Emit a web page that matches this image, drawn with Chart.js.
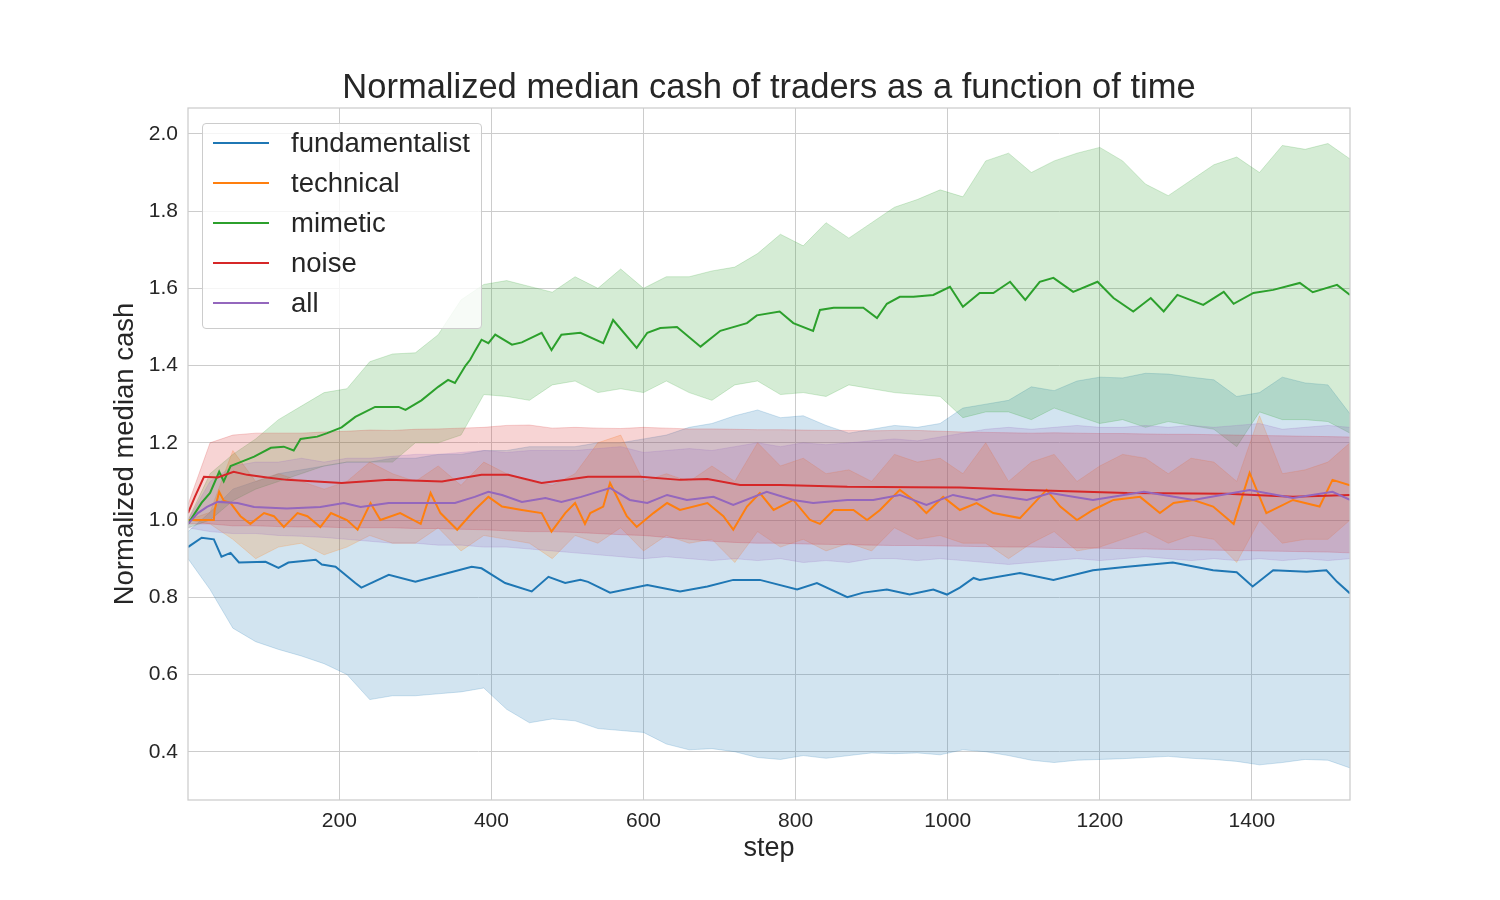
<!DOCTYPE html>
<html>
<head>
<meta charset="utf-8">
<title>Normalized median cash of traders</title>
<script src="https://cdn.jsdelivr.net/npm/chart.js@4.4.0/dist/chart.umd.min.js"></script>
<style>
  html, body { margin: 0; padding: 0; background: #ffffff; }
  #wrap {
    position: relative; width: 1500px; height: 900px;
    font-family: 'Liberation Sans', Arial, sans-serif; color: #262626;
  }
  #title {
    position: absolute; left: 188px; width: 1162px; top: 69px;
    text-align: center; font-size: 34.5px; line-height: 34.5px; white-space: nowrap;
  }
  #legend {
    position: absolute; left: 202px; top: 123px; width: 278px; height: 204px;
    background: rgba(255, 255, 255, 0.8); border: 1px solid #cccccc; border-radius: 4px;
  }
  .swatch { position: absolute; left: 10px; width: 56px; height: 2px; }
  .lbl { position: absolute; left: 88px; font-size: 27.5px; line-height: 27.5px; white-space: nowrap; }
</style>
</head>
<body>
<div id="wrap">
  <canvas id="chart" width="1500" height="900"></canvas>
  <div id="title">Normalized median cash of traders as a function of time</div>
  <div id="legend"></div>
</div>
<script>
/* ===============================================
   DATA
   =============================================== */

const seriesNames = ['fundamentalist', 'technical', 'mimetic', 'noise', 'all'];

// ---- median lines (each read at its own steps) ----
const fundSteps = [1, 19, 35, 45, 57, 68, 103, 120, 133, 169,
    177, 195, 221, 229, 265, 300, 343, 374, 387, 418,
    453, 475, 497, 517, 527, 556, 605, 648, 684, 718,
    753, 802, 828, 868, 889, 920, 950, 981, 999, 1016,
    1034, 1042, 1095, 1139, 1191, 1236, 1296, 1349, 1380, 1401,
    1428, 1472, 1498, 1512, 1529];
const fundMed = [0.93, 0.954, 0.95, 0.905, 0.915, 0.89, 0.892, 0.876, 0.89, 0.897,
    0.885, 0.879, 0.837, 0.825, 0.858, 0.84, 0.863, 0.879, 0.875, 0.837,
    0.815, 0.853, 0.837, 0.845, 0.84, 0.812, 0.832, 0.815, 0.828, 0.845,
    0.845, 0.82, 0.837, 0.80, 0.812, 0.82, 0.807, 0.82, 0.807, 0.825,
    0.85, 0.845, 0.863, 0.845, 0.87, 0.879, 0.89, 0.87, 0.865, 0.828,
    0.87, 0.866, 0.87, 0.84, 0.81];

const techSteps = [1, 35, 36, 42, 48, 57, 70, 83, 101, 114,
    127, 145, 158, 175, 189, 210, 224, 241, 254, 280,
    307, 320, 333, 355, 378, 396, 414, 440, 466, 479,
    497, 510, 523, 530, 547, 556, 578, 591, 613, 631,
    648, 684, 705, 718, 736, 753, 771, 797, 819, 832,
    850, 876, 894, 911, 937, 955, 972, 994, 1016, 1038,
    1060, 1095, 1130, 1148, 1170, 1191, 1218, 1253, 1279, 1297,
    1323, 1349, 1376, 1397, 1419, 1454, 1489, 1506, 1529];
const techMed = [1.0, 1.0, 1.026, 1.073, 1.05, 1.044, 1.01, 0.99, 1.018, 1.01,
    0.982, 1.018, 1.01, 0.982, 1.018, 1.0, 0.975, 1.044, 1.0, 1.018,
    0.99, 1.07, 1.018, 0.975, 1.026, 1.06, 1.035, 1.026, 1.018, 0.97,
    1.018, 1.044, 0.99, 1.018, 1.035, 1.096, 1.01, 0.982, 1.018, 1.044,
    1.026, 1.044, 1.01, 0.975, 1.035, 1.07, 1.026, 1.052, 1.0, 0.99,
    1.026, 1.026, 1.0, 1.026, 1.078, 1.052, 1.018, 1.06, 1.026, 1.044,
    1.018, 1.005, 1.078, 1.035, 1.0, 1.026, 1.052, 1.06, 1.018, 1.044,
    1.052, 1.035, 0.99, 1.122, 1.018, 1.052, 1.035, 1.104, 1.09];

const mimSteps = [1, 19, 30, 42, 48, 57, 70, 88, 110, 127,
    140, 149, 171, 184, 203, 221, 247, 278, 287, 308,
    330, 343, 352, 366, 372, 379, 387, 396, 405, 427,
    440, 466, 479, 492, 517, 547, 560, 591, 605, 622,
    644, 675, 701, 736, 749, 779, 797, 823, 832, 850,
    889, 907, 920, 937, 955, 981, 1003, 1020, 1042, 1060,
    1082, 1102, 1121, 1139, 1165, 1197, 1218, 1244, 1267, 1284,
    1302, 1336, 1363, 1376, 1402, 1428, 1463, 1480, 1512, 1529];
const mimMed = [0.99, 1.045, 1.07, 1.125, 1.10, 1.14, 1.15, 1.164, 1.187, 1.19,
    1.18, 1.21, 1.216, 1.225, 1.24, 1.267, 1.293, 1.293, 1.285, 1.31,
    1.345, 1.363, 1.355, 1.40, 1.415, 1.44, 1.467, 1.458, 1.48, 1.454,
    1.46, 1.485, 1.44, 1.48, 1.485, 1.458, 1.518, 1.446, 1.485, 1.497,
    1.50, 1.449, 1.49, 1.51, 1.53, 1.54, 1.51, 1.49, 1.544, 1.55,
    1.55, 1.523, 1.56, 1.578, 1.578, 1.583, 1.604, 1.552, 1.588, 1.588,
    1.617, 1.57, 1.617, 1.627, 1.591, 1.617, 1.575, 1.54, 1.575, 1.54,
    1.583, 1.557, 1.591, 1.56, 1.588, 1.596, 1.614, 1.59, 1.609, 1.583];

const noiseSteps = [1, 10, 22, 40, 61, 79, 105, 131, 203, 265,
    335, 387, 422, 466, 501, 527, 596, 648, 684, 727,
    780, 868, 955, 1016, 1104, 1236, 1367, 1454, 1529];
const noiseMed = [1.018, 1.06, 1.112, 1.11, 1.125, 1.117, 1.11, 1.104, 1.096, 1.104,
    1.10, 1.117, 1.117, 1.096, 1.105, 1.112, 1.112, 1.104, 1.106, 1.091,
    1.091, 1.086, 1.085, 1.084, 1.078, 1.07, 1.068, 1.06, 1.065];

const allSteps = [1, 14, 26, 40, 66, 88, 131, 175, 206, 228,
    265, 308, 352, 378, 396, 414, 440, 471, 492, 518,
    556, 582, 605, 631, 657, 692, 718, 762, 797, 823,
    868, 902, 937, 972, 1007, 1038, 1060, 1104, 1135, 1191,
    1258, 1323, 1397, 1454, 1506, 1529];
const allMed = [0.99, 1.018, 1.034, 1.047, 1.044, 1.034, 1.03, 1.034, 1.044, 1.034,
    1.044, 1.044, 1.044, 1.06, 1.073, 1.065, 1.047, 1.057, 1.047, 1.06,
    1.083, 1.052, 1.044, 1.065, 1.052, 1.06, 1.039, 1.073, 1.052, 1.044,
    1.052, 1.052, 1.065, 1.039, 1.065, 1.052, 1.065, 1.052, 1.07, 1.052,
    1.073, 1.052, 1.078, 1.057, 1.073, 1.052];

// ---- confidence bands (all read at the same steps) ----
const bandSteps = [1, 30, 60, 90, 120, 150, 180, 210, 240, 270, 300, 330, 360,
    390, 420, 450, 480, 510, 540, 570, 600, 630, 660, 690, 720, 750,
    780, 810, 840, 870, 900, 930, 960, 990, 1020, 1050, 1080, 1110, 1140,
    1170, 1200, 1230, 1260, 1290, 1320, 1350, 1380, 1410, 1440, 1470, 1500, 1529];

const fundLo = [0.90, 0.82, 0.72, 0.685, 0.665, 0.648, 0.628, 0.60, 0.535, 0.545, 0.545, 0.55, 0.555,
    0.565, 0.51, 0.475, 0.485, 0.48, 0.46, 0.455, 0.45, 0.42, 0.405, 0.408, 0.40, 0.385,
    0.38, 0.39, 0.383, 0.39, 0.397, 0.395, 0.397, 0.392, 0.405, 0.40, 0.39, 0.378, 0.372,
    0.378, 0.38, 0.382, 0.385, 0.388, 0.383, 0.38, 0.375, 0.366, 0.372, 0.38, 0.378, 0.358];
const fundHi = [0.97, 1.02, 1.08, 1.10, 1.12, 1.13, 1.14, 1.15, 1.15, 1.16, 1.16, 1.17, 1.17,
    1.18, 1.18, 1.19, 1.19, 1.19, 1.20, 1.20, 1.21, 1.22, 1.24, 1.25, 1.27, 1.285,
    1.265, 1.27, 1.245, 1.225, 1.235, 1.245, 1.24, 1.25, 1.29, 1.30, 1.31, 1.345, 1.335,
    1.36, 1.37, 1.368, 1.38, 1.378, 1.37, 1.363, 1.32, 1.33, 1.37, 1.355, 1.35, 1.275];

const techLo = [1.0, 0.99, 0.95, 0.90, 0.93, 0.94, 0.91, 0.93, 0.96, 0.94, 0.94, 0.98, 0.92,
    0.96, 0.95, 0.94, 0.90, 0.96, 0.94, 0.98, 0.92, 0.96, 0.94, 0.95, 0.89, 0.97,
    0.93, 0.95, 0.92, 0.94, 0.92, 0.98, 0.95, 0.96, 0.94, 0.94, 0.90, 0.94, 0.97,
    0.92, 0.93, 0.95, 0.97, 0.94, 0.96, 0.95, 0.89, 1.0, 0.94, 0.95, 0.95, 1.0];
const techHi = [1.0, 1.02, 1.18, 1.10, 1.12, 1.10, 1.08, 1.10, 1.15, 1.12, 1.10, 1.14, 1.09,
    1.15, 1.12, 1.10, 1.09, 1.12, 1.20, 1.22, 1.10, 1.12, 1.10, 1.14, 1.10, 1.20,
    1.14, 1.16, 1.12, 1.13, 1.10, 1.17, 1.15, 1.16, 1.12, 1.20, 1.10, 1.15, 1.17,
    1.10, 1.14, 1.17, 1.16, 1.12, 1.16, 1.15, 1.10, 1.27, 1.12, 1.13, 1.15, 1.20];

const mimLo = [0.98, 1.0, 1.05, 1.08, 1.10, 1.12, 1.14, 1.15, 1.15, 1.15, 1.20, 1.20, 1.22,
    1.325, 1.32, 1.31, 1.35, 1.36, 1.33, 1.34, 1.33, 1.36, 1.33, 1.31, 1.35, 1.36,
    1.325, 1.33, 1.32, 1.35, 1.34, 1.33, 1.325, 1.32, 1.265, 1.28, 1.28, 1.26, 1.29,
    1.27, 1.25, 1.26, 1.24, 1.255, 1.245, 1.235, 1.19, 1.28, 1.26, 1.26, 1.255, 1.225];
const mimHi = [1.0, 1.12, 1.17, 1.21, 1.26, 1.295, 1.33, 1.34, 1.41, 1.43, 1.433, 1.48, 1.57,
    1.61, 1.62, 1.605, 1.59, 1.63, 1.60, 1.65, 1.60, 1.63, 1.63, 1.645, 1.655, 1.69,
    1.74, 1.71, 1.77, 1.73, 1.77, 1.81, 1.83, 1.855, 1.837, 1.93, 1.95, 1.90, 1.93,
    1.95, 1.965, 1.93, 1.87, 1.84, 1.88, 1.92, 1.94, 1.90, 1.97, 1.96, 1.975, 1.935];

const noiseLo = [0.99, 0.99, 0.985, 0.985, 0.983, 0.982, 0.982, 0.98, 0.98, 0.98, 0.978, 0.978, 0.976,
    0.975, 0.972, 0.97, 0.97, 0.968, 0.965, 0.962, 0.96, 0.955, 0.95, 0.945, 0.942, 0.94,
    0.94, 0.938, 0.937, 0.936, 0.935, 0.934, 0.934, 0.933, 0.932, 0.931, 0.93, 0.93, 0.929,
    0.928, 0.927, 0.926, 0.925, 0.924, 0.923, 0.922, 0.921, 0.92, 0.919, 0.918, 0.917, 0.915];
const noiseHi = [1.04, 1.20, 1.22, 1.225, 1.225, 1.225, 1.228, 1.23, 1.233, 1.232, 1.235, 1.236, 1.238,
    1.24, 1.245, 1.246, 1.238, 1.24, 1.238, 1.237, 1.24, 1.238, 1.236, 1.236, 1.235, 1.234,
    1.234, 1.233, 1.232, 1.232, 1.231, 1.232, 1.232, 1.23, 1.228, 1.227, 1.226, 1.225, 1.226,
    1.225, 1.224, 1.224, 1.223, 1.222, 1.222, 1.221, 1.22, 1.219, 1.218, 1.217, 1.216, 1.215];

const allLo = [0.98, 0.97, 0.965, 0.965, 0.96, 0.958, 0.955, 0.95, 0.945, 0.94, 0.94, 0.935, 0.935,
    0.93, 0.93, 0.925, 0.92, 0.915, 0.91, 0.905, 0.90, 0.905, 0.90, 0.895, 0.90, 0.895,
    0.90, 0.89, 0.895, 0.89, 0.90, 0.90, 0.895, 0.90, 0.895, 0.89, 0.885, 0.89, 0.895,
    0.90, 0.895, 0.90, 0.905, 0.90, 0.895, 0.90, 0.895, 0.90, 0.895, 0.90, 0.895, 0.90];
const allHi = [1.0, 1.10, 1.14, 1.15, 1.15, 1.16, 1.15, 1.16, 1.16, 1.165, 1.17, 1.17, 1.175,
    1.18, 1.175, 1.18, 1.18, 1.18, 1.185, 1.19, 1.175, 1.18, 1.185, 1.18, 1.19, 1.20,
    1.19, 1.20, 1.195, 1.20, 1.205, 1.21, 1.205, 1.215, 1.225, 1.235, 1.24, 1.235, 1.24,
    1.245, 1.24, 1.24, 1.245, 1.24, 1.245, 1.24, 1.245, 1.25, 1.235, 1.24, 1.245, 1.24];

const xTicks = [200, 400, 600, 800, 1000, 1200, 1400];
const yTicks = [0.4, 0.6, 0.8, 1.0, 1.2, 1.4, 1.6, 1.8, 2.0];

/* ===============================================
   STYLE
   =============================================== */

// matplotlib tab10, as "r,g,b"
const seriesColors = ['31,119,180', '255,127,14', '44,160,44', '214,39,40', '148,103,189'];
const FONT = "'Liberation Sans', Arial, sans-serif";
const TEXT = '#262626';
const GRID = '#cccccc';

const medSteps = [fundSteps, techSteps, mimSteps, noiseSteps, allSteps];
const medVals = [fundMed, techMed, mimMed, noiseMed, allMed];
const bandLo = [fundLo, techLo, mimLo, noiseLo, allLo];
const bandHi = [fundHi, techHi, mimHi, noiseHi, allHi];

const toPoints = (xs, ys) => xs.map((s, i) => ({ x: s, y: ys[i] }));

// Bands first (drawn underneath), then the median lines on top
const datasets = [];
seriesNames.forEach((name, k) => {
    const c = seriesColors[k];
    datasets.push({
        label: name + ' low',
        data: toPoints(bandSteps, bandLo[k]),
        borderColor: `rgba(${c},0.2)`,
        borderWidth: 1,
        pointRadius: 0,
        fill: false,
        order: 100 - 2 * k
    });
    datasets.push({
        label: name + ' high',
        data: toPoints(bandSteps, bandHi[k]),
        borderColor: `rgba(${c},0.2)`,
        backgroundColor: `rgba(${c},0.2)`,
        borderWidth: 1,
        pointRadius: 0,
        fill: '-1',
        order: 99 - 2 * k
    });
});
seriesNames.forEach((name, k) => {
    datasets.push({
        label: name,
        data: toPoints(medSteps[k], medVals[k]),
        borderColor: `rgb(${seriesColors[k]})`,
        borderWidth: 2,
        pointRadius: 0,
        fill: false,
        order: 10 - k
    });
});

// Light grey box round the plot, like the seaborn whitegrid spines
const frame = {
    id: 'frame',
    afterDatasetsDraw(chart) {
        const { ctx, chartArea: a } = chart;
        ctx.save();
        ctx.strokeStyle = GRID;
        ctx.lineWidth = 1.25;
        ctx.strokeRect(a.left, a.top, a.right - a.left, a.bottom - a.top);
        ctx.restore();
    }
};

new Chart(document.getElementById('chart'), {
    type: 'line',
    data: { datasets: datasets },
    plugins: [frame],
    options: {
        responsive: false,
        animation: false,
        layout: { padding: { left: 0, right: 150, top: 108, bottom: 0 } },
        plugins: {
            legend: { display: false },
            tooltip: { enabled: false },
            filler: { propagate: false }
        },
        elements: { line: { tension: 0 } },
        scales: {
            x: {
                type: 'linear',
                min: 1,
                max: 1529,
                afterBuildTicks: s => { s.ticks = xTicks.map(v => ({ value: v })); },
                afterFit: s => { s.height = 100; },
                grid: { color: GRID, lineWidth: 1, drawTicks: false },
                border: { display: false },
                ticks: {
                    color: TEXT, padding: 9, maxRotation: 0, autoSkip: false,
                    font: { family: FONT, size: 21 },
                    callback: v => String(v)
                },
                title: {
                    display: true, text: 'step', color: TEXT,
                    font: { family: FONT, size: 27 },
                    padding: { top: 0, bottom: 35 }
                }
            },
            y: {
                type: 'linear',
                min: 0.275,
                max: 2.067,
                afterBuildTicks: s => { s.ticks = yTicks.map(v => ({ value: v })); },
                afterFit: s => { s.width = 188; },
                grid: { color: GRID, lineWidth: 1, drawTicks: false },
                border: { display: false },
                ticks: {
                    color: TEXT, padding: 10,
                    font: { family: FONT, size: 21 },
                    callback: v => Number(v).toFixed(1)
                },
                title: {
                    display: true, text: 'Normalized median cash', color: TEXT,
                    font: { family: FONT, size: 27.5 },
                    padding: { top: 109, bottom: 0 }
                }
            }
        }
    }
});

// Legend inside the plot, top left
const legend = document.getElementById('legend');
seriesNames.forEach((name, k) => {
    const sw = document.createElement('div');
    sw.className = 'swatch';
    sw.style.top = (18 + 40 * k) + 'px';
    sw.style.background = `rgb(${seriesColors[k]})`;
    legend.appendChild(sw);

    const lbl = document.createElement('div');
    lbl.className = 'lbl';
    lbl.style.top = (5 + 40 * k) + 'px';
    lbl.textContent = name;
    legend.appendChild(lbl);
});
</script>
</body>
</html>
